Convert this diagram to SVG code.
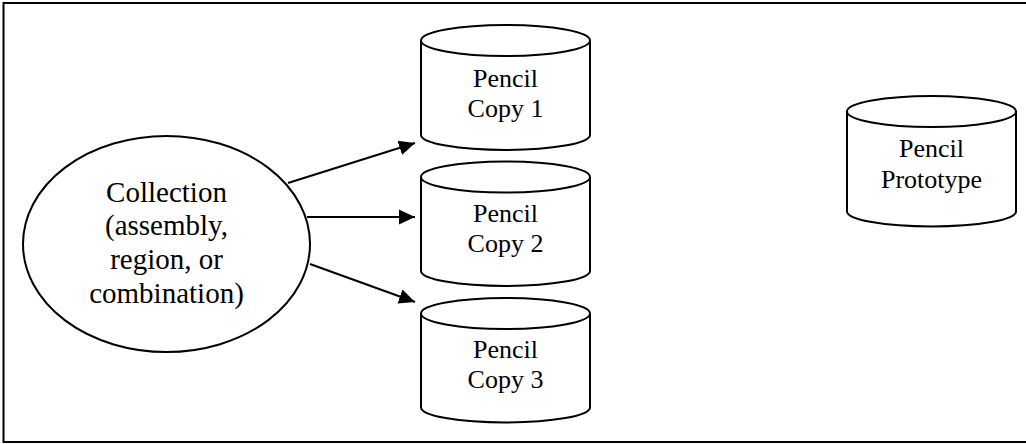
<svg xmlns="http://www.w3.org/2000/svg" width="1026" height="444" viewBox="0 0 1026 444">
  <style>
    .shape { fill: #fff; stroke: #000; stroke-width: 2; }
    .edge { fill: none; stroke: #000; stroke-width: 2; }
    .lbl { font-family: "Liberation Serif", "Times New Roman", serif; fill: #000; text-anchor: middle; }
    .cyl { font-size: 26px; }
    .big { font-size: 29px; }
  </style>
  <defs>
    <marker id="head" markerUnits="userSpaceOnUse" markerWidth="16" markerHeight="16" viewBox="0 0 16 16" refX="16" refY="8" orient="auto">
      <path d="M0,0.5 L16,8 L0,15.5 Z" fill="#000"/>
    </marker>
  </defs>

  <!-- outer frame -->
  <rect x="3.5" y="3" width="1030" height="439" fill="#fff" stroke="#000" stroke-width="2"/>

  <!-- collection -->
  <g id="collection">
    <ellipse class="shape" cx="166.5" cy="244" rx="143.5" ry="108"/>
    <text class="lbl big" x="166.5" y="202">Collection</text>
    <text class="lbl big" x="166.5" y="235">(assembly,</text>
    <text class="lbl big" x="166.5" y="269">region, or</text>
    <text class="lbl big" x="166.5" y="303">combination)</text>
  </g>

  <!-- copies -->
  <g id="copy1">
    <path class="shape" d="M421,40.5 L421,135 A84.5,15 0 0 0 590,135 L590,40.5"/>
    <ellipse class="shape" cx="505.5" cy="40.5" rx="84.5" ry="15.5"/>
    <text class="lbl cyl" x="505.5" y="87">Pencil</text>
    <text class="lbl cyl" x="505.5" y="117">Copy 1</text>
  </g>
  <g id="copy2">
    <path class="shape" d="M421,177 L421,271 A84.5,15 0 0 0 590,271 L590,177"/>
    <ellipse class="shape" cx="505.5" cy="177" rx="84.5" ry="15.5"/>
    <text class="lbl cyl" x="505.5" y="222">Pencil</text>
    <text class="lbl cyl" x="505.5" y="252">Copy 2</text>
  </g>
  <g id="copy3">
    <path class="shape" d="M421,313.5 L421,407.5 A84.5,15 0 0 0 590,407.5 L590,313.5"/>
    <ellipse class="shape" cx="505.5" cy="313.5" rx="84.5" ry="15.5"/>
    <text class="lbl cyl" x="505.5" y="358">Pencil</text>
    <text class="lbl cyl" x="505.5" y="388">Copy 3</text>
  </g>

  <!-- prototype -->
  <g id="prototype">
    <path class="shape" d="M847,111.5 L847,211.5 A84.5,15 0 0 0 1016,211.5 L1016,111.5"/>
    <ellipse class="shape" cx="931.5" cy="111.5" rx="84.5" ry="15.5"/>
    <text class="lbl cyl" x="931.5" y="157">Pencil</text>
    <text class="lbl cyl" x="931.5" y="188">Prototype</text>
  </g>

  <!-- connectors -->
  <g id="connectors">
    <line class="edge" x1="288" y1="183" x2="415" y2="143" marker-end="url(#head)"/>
    <line class="edge" x1="307" y1="217" x2="415" y2="217" marker-end="url(#head)"/>
    <line class="edge" x1="310" y1="264" x2="415" y2="302" marker-end="url(#head)"/>
  </g>
</svg>
